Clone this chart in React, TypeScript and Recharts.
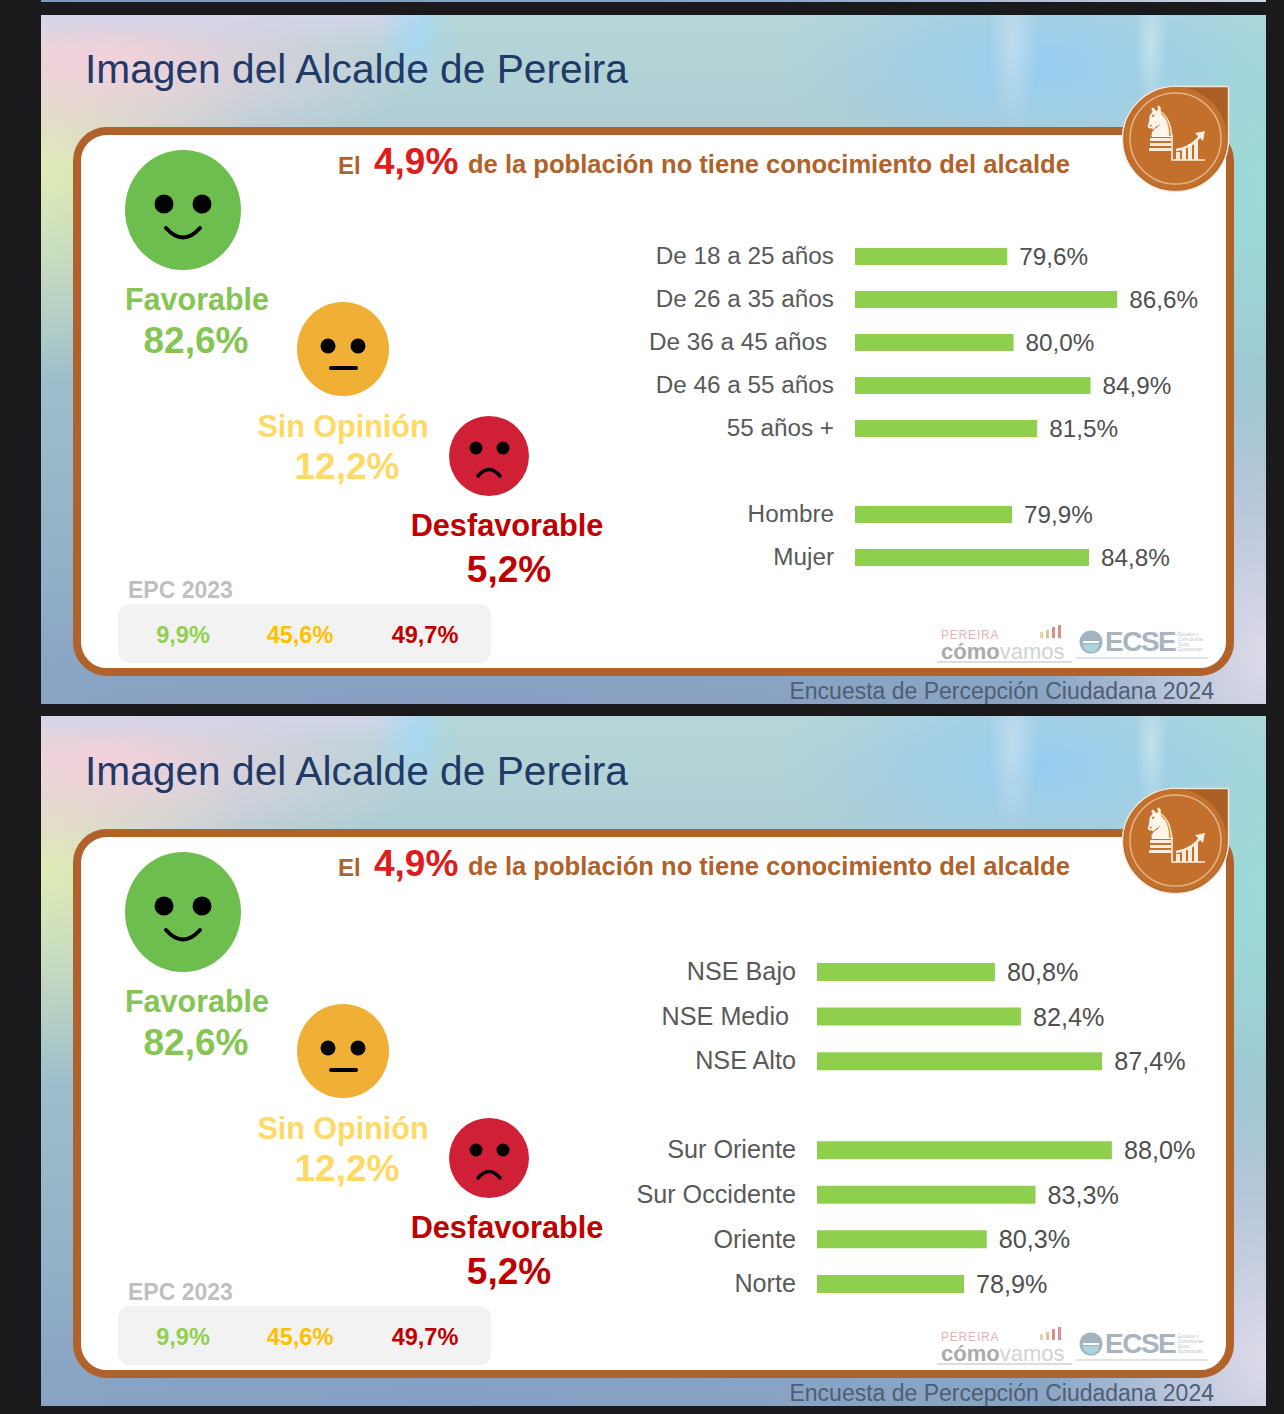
import React from "react";
import { BarChart, Bar, XAxis, YAxis, LabelList } from "recharts";

const FONT = "'Liberation Sans', Arial, sans-serif";

const topCategories = ["De 18 a 25 años", "De 26 a 35 años", "De 36 a 45 años\u00A0", "De 46 a 55 años", "55 años +", " ", "Hombre", "Mujer"];
const topValues = [79.6, 86.6, 80.0, 84.9, 81.5, null, 79.9, 84.8];
const bottomCategories = ["NSE Bajo", "NSE Medio\u00A0", "NSE Alto", " ", "Sur Oriente", "Sur Occidente", "Oriente", "Norte"];
const bottomValues = [80.8, 82.4, 87.4, null, 88.0, 83.3, 80.3, 78.9];
const overall = [
  { name: "Favorable", value: "82,6%", prior: "9,9%" },
  { name: "Sin Opinión", value: "12,2%", prior: "45,6%" },
  { name: "Desfavorable", value: "5,2%", prior: "49,7%" },
];

const rows = (cats: string[], vals: (number | null)[]) => cats.map((c, i) => ({ c, v: vals[i] }));
const fmt = (v: any) => (v == null ? "" : Number(v).toFixed(1).replace(".", ",") + "%");

function T({ x, y, size, color, bold, anchor = "center", children, style }: any) {
  const tx = anchor === "center" ? "-50%" : anchor === "right" ? "-100%" : "0";
  return (
    <div style={{ position: "absolute", left: x, top: y, transform: `translate(${tx},-50%)`, fontFamily: FONT, fontSize: size, color, fontWeight: bold ? 700 : 400, whiteSpace: "nowrap", lineHeight: 1, ...style }}>
      {children}
    </div>
  );
}

function Faces() {
  return (
    <svg width={1284} height={720} style={{ position: "absolute", left: 0, top: 0 }}>
      <ellipse cx={183} cy={210} rx={58} ry={60} fill="#6dbd4f" />
      <circle cx={164} cy={204} r={9.5} fill="#000" />
      <circle cx={202} cy={204} r={9.5} fill="#000" />
      <path d="M166 228 Q183 247 200 228" fill="none" stroke="#000" strokeWidth={4} strokeLinecap="round" />
      <ellipse cx={343} cy={349} rx={46} ry={47} fill="#f0b035" />
      <circle cx={328} cy={346} r={7.5} fill="#000" />
      <circle cx={358} cy={346} r={7.5} fill="#000" />
      <path d="M331 368 H356" stroke="#000" strokeWidth={4} strokeLinecap="round" />
      <ellipse cx={489} cy={456} rx={40} ry={40} fill="#cf2035" />
      <circle cx={476} cy={448} r={6.5} fill="#000" />
      <circle cx={503} cy={448} r={6.5} fill="#000" />
      <path d="M478 476 Q489 463 500 476" fill="none" stroke="#000" strokeWidth={3.5} strokeLinecap="round" />
    </svg>
  );
}

function Badge() {
  return (
    <>
      <svg width={1284} height={720} style={{ position: "absolute", left: 0, top: 0 }}>
        <path d="M1175 86.5 H1228.5 V139 A53 52.5 0 1 1 1175 86.5 Z" fill="#aa5f27" stroke="#f3e6d8" strokeWidth={1.5} />
        <circle cx={1175.5} cy={138.5} r={51.5} fill="#c2702b" />
        <circle cx={1175.5} cy={138.5} r={45.5} fill="none" stroke="#e4b489" strokeWidth={1.5} />
        <rect x={1150} y={138} width={21} height={3} fill="#fbeee0" />
        <rect x={1150} y={143} width={21} height={3} fill="#fbeee0" />
        <rect x={1149} y={148} width={22} height={3} fill="#fbeee0" />
        <path d="M1172 135 V160 H1205" fill="none" stroke="#fbeee0" strokeWidth={1.6} />
        <rect x={1176} y={152} width={4} height={8} fill="#fbeee0" />
        <rect x={1182} y={149} width={4} height={11} fill="#fbeee0" />
        <rect x={1188} y={144} width={4} height={16} fill="#fbeee0" />
        <rect x={1194} y={140} width={4} height={20} fill="#fbeee0" />
        <path d="M1176 150 Q1192 148 1201 135" fill="none" stroke="#fbeee0" strokeWidth={2.5} />
        <path d="M1205 131 L1195 133 L1203 141 Z" fill="#fbeee0" />
      </svg>
      <T x={1160} y={122} size={43} color="#fff6ea" style={{ fontFamily: "'DejaVu Sans'" }}>♞</T>
    </>
  );
}

function Logos() {
  return (
    <>
      <svg width={1284} height={720} style={{ position: "absolute", left: 0, top: 0 }}>
        <rect x={1040} y={632} width={3} height={6} fill="#ecd2a8" />
        <rect x={1046} y={630} width={3} height={8} fill="#e4c09a" />
        <rect x={1052} y={627} width={3} height={11} fill="#d98f8f" />
        <rect x={1058} y={625} width={3} height={13} fill="#d98f8f" />
        <line x1={937} x2={1072} y1={662} y2={662} stroke="#bbb" strokeWidth={1} />
        <line x1={1076} x2={1208} y1={658} y2={658} stroke="#c2c8ce" strokeWidth={1} />
        <circle cx={1091} cy={642} r={11.5} fill="#a3b3c0" />
        <rect x={1083} y={641} width={16} height={2} fill="#fff" />
        <path d="M1083 644 H1099 A8 8 0 0 1 1083 644 Z" fill="#a9d6dc" />
      </svg>
      <T x={941} y={635} size={12} color="#e3b4b4" anchor="left" style={{ letterSpacing: 0.8 }}>PEREIRA</T>
      <T x={941} y={652} size={22} color="#aaaaaa" anchor="left" bold>cómo<span style={{ fontWeight: 400, color: "#cfd3d6" }}>vamos</span></T>
      <T x={1105} y={642} size={28} color="#a8b4c0" anchor="left" bold style={{ letterSpacing: -1.5 }}>ECSE</T>
      <div style={{ position: "absolute", left: 1178, top: 632, width: 30, fontFamily: FONT, fontSize: 4.5, lineHeight: "5px", color: "#c0c6cc" }}>
        Estudios y Consultorías Socio Económicas
      </div>
    </>
  );
}

function Slide({ offset, top, height, chart }: any) {
  return (
    <div style={{ position: "absolute", left: 0, top: offset, width: 1284, height: 720 }}>
      <div
        style={{
          position: "absolute", left: 41, top, width: 1225, height,
          background: [
            "radial-gradient(ellipse 40px 60px at 375px 20px, rgba(165,216,244,.9), rgba(165,216,244,0) 100%)",
            "radial-gradient(ellipse 25px 90px at 972px 30px, rgba(205,226,238,.7), rgba(205,226,238,0) 100%)",
            "radial-gradient(ellipse 16px 70px at 1110px 30px, rgba(205,232,238,.7), rgba(205,232,238,0) 100%)",
            "linear-gradient(180deg, rgba(214,212,236,.9) 0px, rgba(214,212,236,0) 30px) 0 0 / 380px 100% no-repeat",
            "radial-gradient(ellipse 330px 110px at 60px 45px, rgba(244,208,222,.98), rgba(244,208,222,0) 100%)",
            "radial-gradient(ellipse 210px 220px at 0px 150px, rgba(228,238,178,.95), rgba(228,238,178,0) 100%)",
            "radial-gradient(ellipse 260px 115px at 1000px 50px, rgba(150,204,240,.98), rgba(150,204,240,0) 100%)",
            "radial-gradient(ellipse 180px 280px at 1225px 180px, rgba(155,220,216,.95), rgba(155,220,216,0) 100%)",
            "radial-gradient(ellipse 220px 300px at 1225px 640px, rgba(226,222,236,.95), rgba(226,222,236,0) 100%)",
            "radial-gradient(ellipse 760px 110px at 400px 690px, rgba(134,158,194,.95), rgba(134,158,194,0) 100%)",
            "linear-gradient(180deg,#b6d6d8 0%,#94b6c8 70%,#8ba6c4 100%)",
          ].join(","),
        }}
      />
      <T x={85} y={69} size={40.7} color="#1f3a68" anchor="left">Imagen del Alcalde de Pereira</T>
      <div style={{ position: "absolute", left: 73, top: 127, width: 1161, height: 549, boxSizing: "border-box", border: "8px solid #b0622a", borderRadius: 34, background: "#fff" }} />
      <Badge />
      <T x={338} y={166} size={24} color="#b0622a" anchor="left" bold>El</T>
      <T x={374} y={161} size={37} color="#e01b1b" anchor="left" bold>4,9%</T>
      <T x={468} y={165} size={25.55} color="#b0622a" anchor="left" bold>de la población no tiene conocimiento del alcalde</T>
      <Faces />
      <T x={197} y={299} size={30.5} color="#84c553" bold>{overall[0].name}</T>
      <T x={196} y={340} size={37} color="#84c553" bold>{overall[0].value}</T>
      <T x={343} y={426} size={30.5} color="#ffd966" bold>{overall[1].name}</T>
      <T x={347} y={466} size={37} color="#ffd966" bold>{overall[1].value}</T>
      <T x={507} y={526} size={30.7} color="#c00000" bold>{overall[2].name}</T>
      <T x={509} y={569} size={37} color="#c00000" bold>{overall[2].value}</T>
      <T x={128} y={590} size={23} color="#bfbfbf" anchor="left" bold>EPC 2023</T>
      <div style={{ position: "absolute", left: 118, top: 604, width: 373, height: 59, borderRadius: 12, background: "#f2f2f2" }} />
      <T x={183} y={636} size={23.5} color="#92d050" bold>{overall[0].prior}</T>
      <T x={300} y={636} size={23.5} color="#ffc000" bold>{overall[1].prior}</T>
      <T x={425} y={636} size={23.5} color="#c00000" bold>{overall[2].prior}</T>
      <Logos />
      <T x={1214} y={691} size={23} color="#4d5e75" anchor="right">Encuesta de Percepción Ciudadana 2024</T>
      {chart}
    </div>
  );
}

function Chart({ data, left, top, height, axisWidth, plotWidth, domain, fontSize, barSize }: any) {
  return (
    <div style={{ position: "absolute", left, top }}>
      <BarChart layout="vertical" width={axisWidth + plotWidth + 100} height={height} data={data} margin={{ top: 0, right: 100, bottom: 0, left: 0 }} barCategoryGap={0}>
        <XAxis type="number" domain={domain} hide allowDataOverflow />
        <YAxis
          type="category"
          dataKey="c"
          width={axisWidth}
          axisLine={false}
          tickLine={false}
          tickSize={0}
          tickMargin={21}
          interval={0}
          tick={{ fill: "#595959", fontSize, fontFamily: FONT, dy: -1 }}
        />
        <Bar dataKey="v" fill="#8ed04e" barSize={barSize} isAnimationActive={false}>
          <LabelList dataKey="v" position="right" offset={12} formatter={fmt} style={{ fill: "#4f4f4f", fontSize, fontFamily: FONT }} />
        </Bar>
      </BarChart>
    </div>
  );
}

export default function App() {
  return (
    <div style={{ position: "absolute", left: 0, top: 0, width: 1284, height: 1414, background: "#1a1a1c", overflow: "hidden" }}>
      <div style={{ position: "absolute", left: 41, top: 0, width: 1225, height: 2, background: "linear-gradient(90deg,#7f97bc,#8ea6c6 60%,#d0d4e4)" }} />
      <Slide
        offset={0}
        top={15}
        height={689}
        chart={<Chart data={rows(topCategories, topValues)} left={620} top={234.5} height={344} axisWidth={235} plotWidth={315.6} domain={[69.9, 90]} fontSize={24.3} barSize={17} />}
      />
      <Slide
        offset={702}
        top={14}
        height={690}
        chart={<Chart data={rows(bottomCategories, bottomValues)} left={582} top={247.7} height={356.5} axisWidth={235} plotWidth={327.4} domain={[69.85, 90]} fontSize={25.2} barSize={18} />}
      />
    </div>
  );
}
